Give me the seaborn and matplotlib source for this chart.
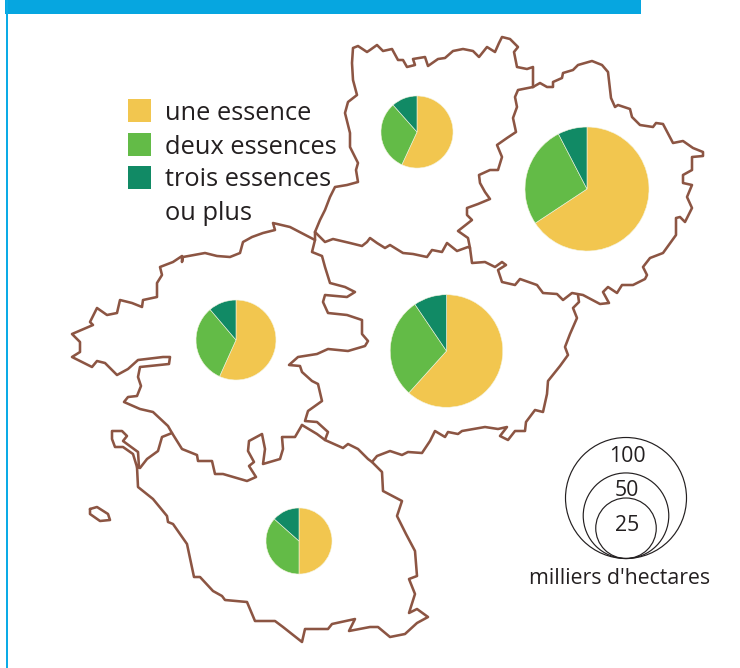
import matplotlib
matplotlib.use("Agg")
import matplotlib.pyplot as plt
from matplotlib.patches import Rectangle, Circle
import numpy as np
import pandas as pd
import seaborn as sns

sns.set_theme(style="white")
plt.rcParams['font.family'] = ['Open Sans', 'DejaVu Sans']

# ---- data ----
categories = ["une essence", "deux essences", "trois essences"]
extra_line = "ou plus"
colors = ["#F2C64F", "#63BB47", "#118A65"]
sarthe_vals = [69.0, 28.0, 8.0]
mayenne_vals = [20.2, 11.2, 4.1]
maine_vals = [53.4, 25.0, 8.2]
loire_vals = [24.8, 14.0, 4.9]
vendee_vals = [14.9, 10.9, 4.0]
sarthe_pos = (587, 189)
mayenne_pos = (417, 132)
maine_pos = (446.5, 351)
loire_pos = (236, 340)
vendee_pos = (299, 541)
scale_values = [100, 50, 25]
scale_unit = "milliers d'hectares"
RADIUS_PER_SQRT = 6.05

mayenne_outline = [(315,232),(320,220),(325,210),(330,197),(335,187),(347,185),(358,182),(356,170),(358,163),(350,147),(350,133),(345,113),(348,102),(357,95),(353,80),(352,63),(353,48),(358,46),(367,52),(370,50),(377,45),(383,51),(392,49),(398,60),(403,60),(407,67),(415,65),(413,59),(425,57),(428,66),(438,59),(445,58),(453,51),(463,49),(473,51),(479,57),(487,47),(495,52),(499,43),(502,37),(510,39),(518,47),(514,52),(517,67),(527,69),(533,67),(533,87)]
mayenne_south = [(470,248),(468,247),(457,251),(447,243),(442,252),(432,250),(427,257),(413,254),(403,253),(390,245),(385,248),(377,243),(370,238),(367,242),(362,246),(350,243),(333,239),(325,242),(315,232)]
sarthe_outline = [(533,87),(518,90),(515,97),(517,107),(513,118),(516,132),(507,138),(497,145),(502,157),(498,170),(490,170),(479,175),(480,183),(485,192),(490,199),(478,204),(467,208),(467,215),(472,220),(458,231),(468,238),(470,248),(472,263),(485,262),(495,267),(502,262),(506,265),(498,270),(502,282),(515,285),(520,279),(537,285),(543,293),(557,294),(563,300),(572,293),(583,295),(600,304),(609,303),(603,292),(608,287),(617,293),(622,285),(633,285),(645,279),(647,275),(643,267),(650,258),(663,253),(676,235),(676,218),(680,217),(685,222),(692,208),(687,197),(692,185),(683,183),(683,175),(692,170),(692,157),(703,156),(703,152),(693,148),(683,141),(673,143),(663,124),(656,123),(653,127),(640,125),(632,117),(630,109),(618,105),(615,107),(611,98),(608,72),(602,65),(592,61),(578,65),(573,70),(563,73),(562,78),(553,82),(553,87),(547,87),(540,83),(533,87)]
maine_outline = [(578,295),(579,302),(573,308),(577,318),(570,334),(565,347),(568,355),(560,366),(548,381),(547,394),(543,412),(535,410),(526,422),(525,431),(515,431),(508,440),(500,436),(507,427),(498,429),(485,427),(462,431),(458,434),(448,432),(445,437),(435,431),(430,441),(422,453),(408,452),(402,455),(390,451),(377,456),(372,462),(368,459),(358,449),(348,444),(343,448),(325,440),(317,434),(302,425)]
maine_west = [(325,440),(328,432),(317,422),(305,421),(308,411),(322,401),(318,384),(312,381),(302,372),(300,366),(289,365),(298,357),(317,354),(328,349),(348,351),(365,346),(368,341),(362,334),(362,320),(347,315),(328,313),(323,302),(325,295),(347,297),(355,292),(345,287),(330,283),(325,267),(322,256),(312,252),(315,240),(315,232)]
loire_outline = [(315,240),(290,227),(273,223),(275,230),(263,233),(252,237),(243,242),(240,253),(230,257),(217,256),(205,253),(183,257),(182,262),(182,256),(173,262),(160,267),(162,275),(157,283),(157,297),(143,300),(142,307),(132,303),(120,300),(117,313),(107,315),(97,308),(90,322),(93,325),(72,334),(80,342),(80,352),(72,357),(92,367),(97,361),(105,363),(117,375),(128,369),(138,360),(163,357),(170,357),(169,364),(140,367),(138,377),(141,386),(137,396),(128,397),(124,402),(140,409),(153,412),(168,426),(172,433),(182,449),(197,455),(198,461),(212,461),(215,474),(223,474),(247,481),(256,477),(249,466),(254,462),(248,451),(249,441),(262,434),(265,449),(263,464),(280,459),(283,449),(282,437),(295,437),(302,425)]
vendee_outline = [(172,433),(162,437),(158,451),(147,459),(140,468),(137,467),(138,487),(153,499),(167,516),(168,522),(173,524),(187,544),(194,577),(200,577),(213,591),(222,596),(225,600),(247,602),(255,621),(275,621),(283,627),(302,642),(305,629),(315,629),(328,629),(332,624),(355,619),(349,631),(370,627),(378,627),(390,637),(405,634),(417,623),(428,617),(417,609),(409,613),(415,594),(409,579),(417,576),(415,551),(406,534),(397,516),(402,501),(383,491),(382,472),(372,462)]
noirmoutier_outline = [(137,467),(133,454),(123,447),(115,447),(112,439),(112,431),(122,431),(127,436),(123,441),(138,452),(139,467)]
yeu_outline = [(90,509),(97,507),(108,514),(110,520),(100,521),(90,514),(90,509)]

outlines = [mayenne_outline, mayenne_south, sarthe_outline, maine_outline, maine_west,
            loire_outline, vendee_outline, noirmoutier_outline, yeu_outline]
pies = [(sarthe_vals, sarthe_pos), (mayenne_vals, mayenne_pos), (maine_vals, maine_pos),
        (loire_vals, loire_pos), (vendee_vals, vendee_pos)]

# ---- figure ----
fig = plt.figure(figsize=(7.4, 6.68), dpi=100)
ax = fig.add_axes([0, 0, 1, 1])

for vals, pos in pies:
    ax.pie(vals, colors=colors, center=pos, radius=RADIUS_PER_SQRT * np.sqrt(sum(vals)),
           startangle=-90, counterclock=True, frame=True,
           wedgeprops=dict(edgecolor="#f4f4e0", linewidth=0.4))

for pts in outlines:
    df = pd.DataFrame(pts, columns=["x", "y"])
    sns.lineplot(data=df, x="x", y="y", sort=False, estimator=None, ax=ax,
                 color="#8C5543", linewidth=1.85, legend=False,
                 solid_joinstyle="round", zorder=3)

# header bar and left rule
ax.add_patch(Rectangle((5.3, 0), 635.7, 14, fc="#06A6E0", ec="none", zorder=4))
ax.add_patch(Rectangle((5.8, 0), 2.5, 668, fc="#0CABE6", ec="none", zorder=4))

# legend
text_color = "#231F20"
for i, (lab, c) in enumerate(zip(categories, colors)):
    y0 = 99 + i * 33.5
    ax.add_patch(Rectangle((128, y0), 23, 23, fc=c, ec="none", zorder=5))
    ax.text(165, 114 + i * 33, lab, fontsize=18.3, color=text_color, va="center", zorder=6)
ax.text(165, 213, extra_line, fontsize=18.3, color=text_color, va="center", zorder=6)

# size scale
base_x, base_y = 626, 558.5
for v in scale_values:
    r = RADIUS_PER_SQRT * np.sqrt(v)
    ax.add_patch(Circle((base_x, base_y - r), r, fc="none", ec=text_color, lw=0.85, zorder=5))
for v, y in zip(scale_values, [456.5, 491, 525.5]):
    ax.text(627, y, str(v), fontsize=15.3, color=text_color, ha="center", va="center", zorder=6)
ax.text(619.5, 578, scale_unit, fontsize=15.3, color=text_color, ha="center", va="center", zorder=6)

ax.set_xlim(0, 740)
ax.set_ylim(668, 0)
ax.set_aspect("equal")
ax.set_xlabel("")
ax.set_ylabel("")
ax.set_xticks([])
ax.set_yticks([])
sns.despine(ax=ax, left=True, bottom=True)
fig.savefig("out.png", dpi=100, facecolor="white")
